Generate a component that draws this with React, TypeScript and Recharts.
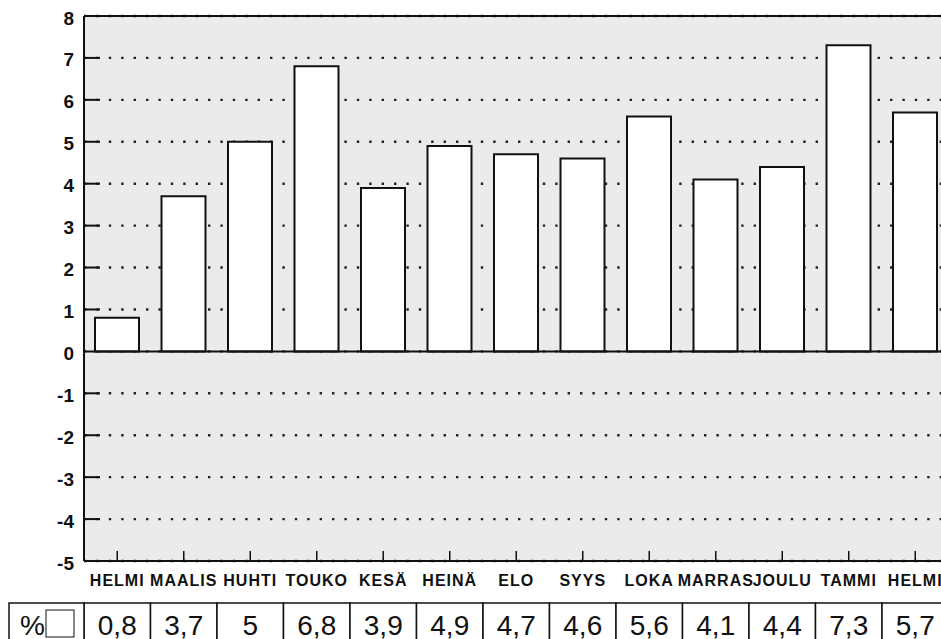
import { BarChart, Bar, XAxis, YAxis, CartesianGrid, ReferenceLine } from "recharts";

const MONTHS = [
  "HELMI", "MAALIS", "HUHTI", "TOUKO", "KESÄ", "HEINÄ", "ELO",
  "SYYS", "LOKA", "MARRAS", "JOULU", "TAMMI", "HELMI",
];
const VALUES = [0.8, 3.7, 5, 6.8, 3.9, 4.9, 4.7, 4.6, 5.6, 4.1, 4.4, 7.3, 5.7];
const Y_TICKS = [-5, -4, -3, -2, -1, 0, 1, 2, 3, 4, 5, 6, 7, 8];

const data = MONTHS.map((m, i) => ({ month: m, value: VALUES[i] }));

const FONT = "'Liberation Sans', Arial, Helvetica, sans-serif";
const INK = "#111";
const CHART_W = 960;
const PLOT_LEFT = 84;
const PLOT_RIGHT = 948.5;
const BAND = (PLOT_RIGHT - PLOT_LEFT) / MONTHS.length;

const fmt = (v: number) => String(v).replace(".", ",");

function YTick({ x, y, payload }: any) {
  const v = payload.value;
  return (
    <g>
      {v !== 0 && v !== 8 && v !== -5 && (
        <line x1={x + 10} x2={x + 26} y1={y} y2={y} stroke={INK} strokeWidth={2} />
      )}
      <text
        x={x}
        y={y + 2}
        textAnchor="end"
        dominantBaseline="central"
        fontFamily={FONT}
        fontWeight={700}
        fontSize={19}
        fill={INK}
      >
        {v}
      </text>
    </g>
  );
}

function XTick({ x, y, payload, index }: any) {
  const v = VALUES[index];
  return (
    <g>
      <line x1={x} x2={x} y1={y} y2={y - 10} stroke={INK} strokeWidth={1.5} />
      <text
        x={x}
        y={y + 19}
        textAnchor="middle"
        dominantBaseline="central"
        fontFamily={FONT}
        fontWeight={700}
        fontSize={16}
        letterSpacing={1}
        fill={INK}
      >
        {payload.value}
      </text>
      {/* table cell */}
      <rect x={x - BAND / 2} y={y + 42} width={BAND} height={60} fill="#fff" stroke={INK} strokeWidth={1.5} />
      <text
        x={x}
        y={y + 64}
        textAnchor="middle"
        dominantBaseline="central"
        fontFamily={FONT}
        fontSize={28}
        fill={INK}
      >
        {fmt(v)}
      </text>
      {index === 0 && (
        <g>
          <rect x={x - BAND / 2 - 75} y={y + 42} width={75} height={60} fill="#fff" stroke={INK} strokeWidth={1.5} />
          <text
            x={x - BAND / 2 - 64}
            y={y + 64}
            dominantBaseline="central"
            fontFamily={FONT}
            fontSize={28}
            fill={INK}
          >
            %
          </text>
          <rect x={x - BAND / 2 - 38} y={y + 49} width={28} height={27} fill="#fff" stroke={INK} strokeWidth={1} />
        </g>
      )}
    </g>
  );
}

export default function App() {
  return (
    <div
      style={{
        position: "fixed",
        left: 0,
        top: 0,
        width: 941,
        height: 639,
        overflow: "hidden",
        background: "#fff",
      }}
    >
      <BarChart
        width={CHART_W}
        height={680}
        data={data}
        margin={{ top: 16, right: CHART_W - PLOT_RIGHT, bottom: 0, left: 0 }}
      >
        <CartesianGrid
          vertical={false}
          fill="#ebebeb"
          stroke="#222"
          strokeWidth={2.4}
          strokeDasharray="2.4 10"
        />
        <XAxis
          dataKey="month"
          interval={0}
          height={119}
          tickSize={0}
          tickMargin={0}
          tick={<XTick />}
          axisLine={{ stroke: INK, strokeWidth: 2 }}
          tickLine={false}
        />
        <YAxis
          width={PLOT_LEFT}
          domain={[-5, 8]}
          ticks={Y_TICKS}
          interval={0}
          tickSize={0}
          tickMargin={10}
          tick={<YTick />}
          axisLine={{ stroke: INK, strokeWidth: 2 }}
          tickLine={false}
        />
        <ReferenceLine y={8} stroke={INK} strokeWidth={2} />
        <Bar
          dataKey="value"
          barSize={44}
          fill="#fff"
          stroke={INK}
          strokeWidth={2}
          isAnimationActive={false}
        />
        <ReferenceLine y={0} stroke={INK} strokeWidth={2} />
      </BarChart>
    </div>
  );
}
